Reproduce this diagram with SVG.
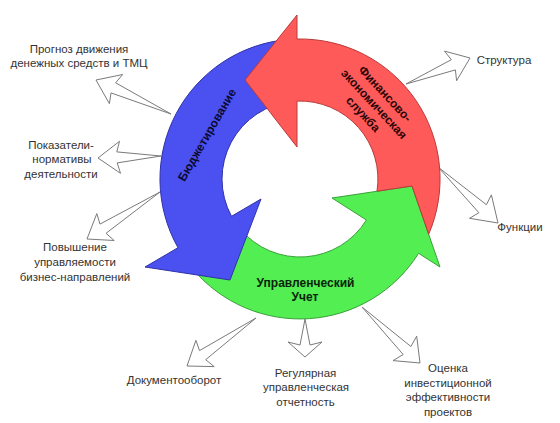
<svg xmlns="http://www.w3.org/2000/svg" width="560" height="423" viewBox="0 0 560 423">
<style>
.lbl{font-family:"Liberation Sans",Arial,sans-serif;font-size:11.5px;fill:#333;text-anchor:middle}
.rl{font-family:"Liberation Sans",Arial,sans-serif;font-size:12px;font-weight:bold;text-anchor:middle}
.conn{fill:#fff;stroke:#7a7a7a;stroke-width:1;stroke-linejoin:miter}
.red{fill:#ff5a5a;stroke:#b83a3a;stroke-width:1}
.blue{fill:#4b50f0;stroke:#2f32a8;stroke-width:1}
.green{fill:#52ee52;stroke:#3aa03a;stroke-width:1}
</style>
<rect width="560" height="423" fill="#fff"/>
<g id="connectors">
<polygon class="conn" points="171,114 111,92.9 109.4,103.7 96,80 122.7,74.5 115.6,82.8"/>
<polygon class="conn" points="161,156 117.2,162.9 120.5,173.3 98,158 119.5,141.3 116.8,151.9"/>
<polygon class="conn" points="160,192 106,233.3 114.2,240.5 87,239 96.8,213.6 100,224.1"/>
<polygon class="conn" points="256,318 205.7,359.7 214.2,366.6 187,366 195.9,340.3 199.5,350.6"/>
<polygon class="conn" points="305,319 310,345 322,342 305,357 288,342 300,345"/>
<polygon class="conn" points="362,307 410.9,346.5 416.7,336.2 420,363 393.1,360.6 403.2,354.5"/>
<polygon class="conn" points="438,167 486.4,204.7 491.4,194.9 498,223 469.5,218.3 478.9,212.7"/>
<polygon class="conn" points="406,84 451.3,59.7 444.5,51.1 470,58 456.6,80.7 455.4,69.9"/>
</g>
<g id="uchet">
<path class="green" d="M192.8,269 A140,140 0 0 0 418.6,253.3 L440,267 L412,186 L332,198 L366.4,220 A78,78 0 0 1 240.25,229.1 Z"/>
<text class="rl" x="305.5" y="287" fill="#0a240a">Управленческий</text>
<text class="rl" x="305" y="301" fill="#0a240a">Учет</text>
</g>
<g id="budget">
<path class="blue" d="M287.8,39.5 A140,140 0 0 0 178,247.7 L145,267 L230,280 L261,199 L231.5,216.3 A78,78 0 0 1 293.2,101.3 Z"/>
<text class="rl" transform="translate(207,135) rotate(-60)" x="0" y="4" fill="#0a0a30">Бюджетирование</text>
</g>
<g id="fes">
<path class="red" d="M245,80 L297,15 L297,39 A140,140 0 0 1 428.7,234.2 L412,186 L377,191.2 A78,78 0 0 0 297,101.1 L297,147 Z"/>
<g transform="translate(374,104) rotate(47)" fill="#2a0505">
<text class="rl" x="0" y="-11">Финансово-</text>
<text class="rl" x="0" y="4">экономическая</text>
<text class="rl" x="0" y="19">служба</text>
</g>
</g>
<g id="prognoz">
<text class="lbl" x="79" y="53">Прогноз движения</text>
<text class="lbl" x="79" y="67">денежных средств и ТМЦ</text>
</g>
<g id="pokazateli">
<text class="lbl" x="61" y="149">Показатели-</text>
<text class="lbl" x="62" y="163">нормативы</text>
<text class="lbl" x="61" y="178">деятельности</text>
</g>
<g id="povyshenie">
<text class="lbl" x="75" y="251">Повышение</text>
<text class="lbl" x="75" y="266">управляемости</text>
<text class="lbl" x="75" y="281">бизнес-направлений</text>
</g>
<g id="dokumentooborot">
<text class="lbl" x="174" y="384">Документооборот</text>
</g>
<g id="reglar">
<text class="lbl" x="305.5" y="377">Регулярная</text>
<text class="lbl" x="306" y="391">управленческая</text>
<text class="lbl" x="305.5" y="406">отчетность</text>
</g>
<g id="ocenka">
<text class="lbl" x="448" y="372">Оценка</text>
<text class="lbl" x="448" y="387">инвестиционной</text>
<text class="lbl" x="448" y="401">эффективности</text>
<text class="lbl" x="448" y="416">проектов</text>
</g>
<g id="funkcii">
<text class="lbl" x="520" y="231">Функции</text>
</g>
<g id="struktura">
<text class="lbl" x="504" y="64">Структура</text>
</g>
</svg>
